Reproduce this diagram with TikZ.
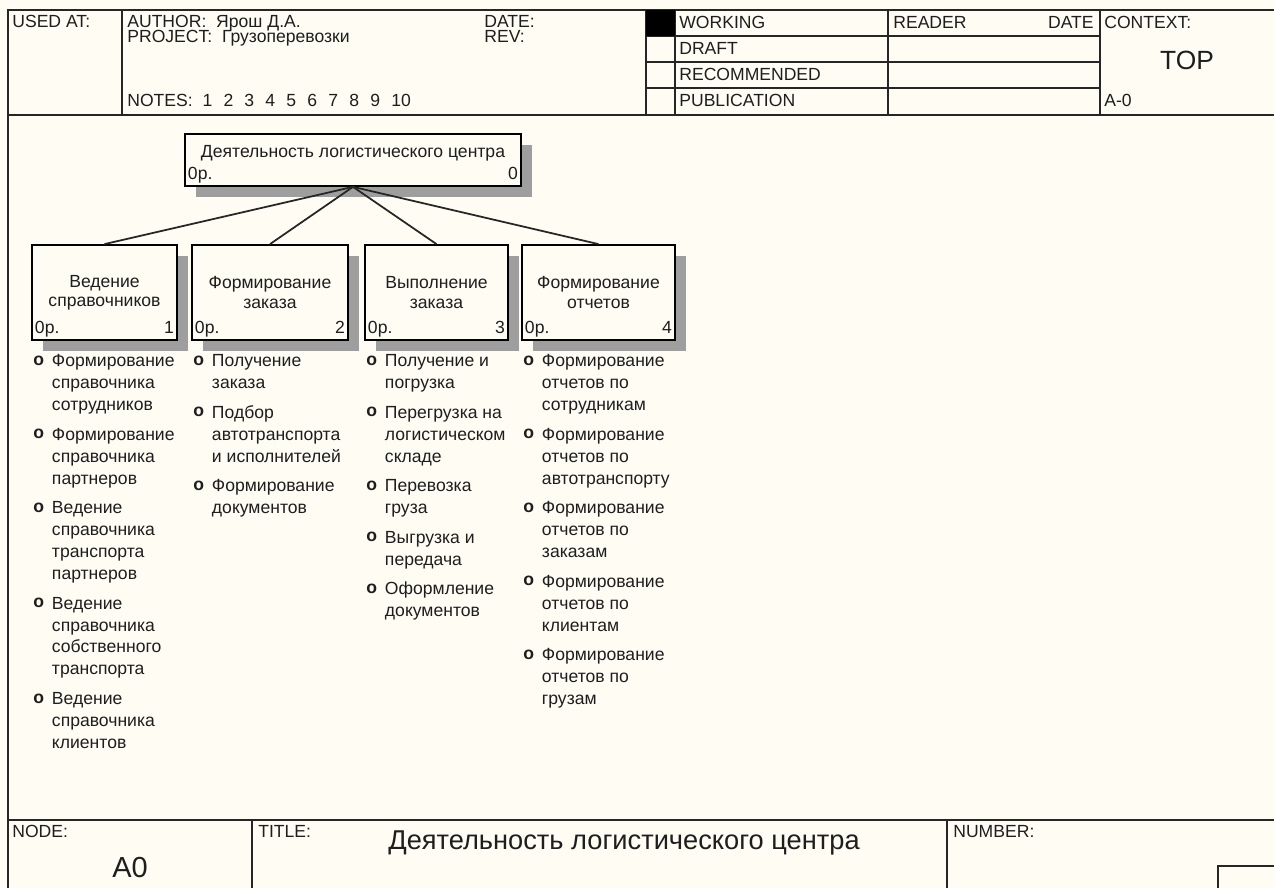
\documentclass[tikz,border=0pt]{standalone}
\usepackage{fontspec}
\setmainfont{Liberation Sans}
\usetikzlibrary{shadows}

\definecolor{paper}{RGB}{254,252,243}
\definecolor{ink}{RGB}{30,30,30}
\newcommand{\bul}{\raisebox{0.8pt}{\bfseries o}}
\newcommand{\nsp}{~\hspace{0.36em}}
\tikzset{
	rule/.style={line width=1pt, draw=black!85},
	hd/.style={anchor=base west, inner sep=0pt, text=ink, font=\fontsize{10}{12}\selectfont},
	fnbox/.style={draw, line width=1pt, fill=paper, text=ink, align=center, font=\fontsize{10}{11}\selectfont, general shadow={fill=black!38, shadow xshift=0.22cm, shadow yshift=-0.22cm}},
	corner/.style={inner sep=2pt, text depth=0.21em, text=ink, font=\fontsize{10}{12}\selectfont},
	lst/.style={anchor=north west, inner sep=0pt, text=ink, font=\fontsize{10}{12.5}\selectfont}
}

\begin{document}
\begin{tikzpicture}
		\path [use as bounding box, fill=paper] (0, 0) rectangle (25.48, 17.76);

		\draw [rule] (0.16, 0) -- (0.16, 17.56) -- (25.48, 17.56);
		\draw [rule] (0.16, 15.46) -- (25.48, 15.46);
		\draw [rule] (0.16, 1.36) -- (25.48, 1.36);
		\draw [rule] (2.44, 17.56) -- (2.44, 15.46);
		\draw [rule] (12.92, 17.56) -- (12.92, 15.46);
		\draw [rule] (13.5, 17.56) -- (13.5, 15.46);
		\draw [rule] (17.76, 17.56) -- (17.76, 15.46);
		\draw [rule] (22, 17.56) -- (22, 15.46);
		\draw [rule] (12.92, 17.04) -- (22, 17.04);
		\draw [rule] (12.92, 16.52) -- (22, 16.52);
		\draw [rule] (12.92, 16) -- (22, 16);
		\fill [black] (12.92, 17.56) rectangle (13.5, 17.04);
		\draw [rule] (5.04, 1.36) -- (5.04, 0);
		\draw [rule] (18.94, 1.36) -- (18.94, 0);
		\draw [rule] (24.36, 0) |- (25.48, 0.44);

		\node [hd] (usedat) at (0.24, 17.2) {USED AT:};
		\node [hd] (author) at (2.54, 17.2) {AUTHOR:~~Ярош Д.А.};
		\node [hd] (project) at (2.54, 16.9) {PROJECT:~~Грузоперевозки};
		\node [hd] (notes) at (2.54, 15.62) {NOTES:~~1\nsp2\nsp3\nsp4\nsp5\nsp6\nsp7\nsp8\nsp9\nsp10};
		\node [hd] (date) at (9.68, 17.2) {DATE:};
		\node [hd] (rev) at (9.68, 16.9) {REV:};
		\node [hd] (working) at (13.58, 17.18) {WORKING};
		\node [hd] (draft) at (13.58, 16.66) {DRAFT};
		\node [hd] (recommended) at (13.58, 16.14) {RECOMMENDED};
		\node [hd] (publication) at (13.58, 15.62) {PUBLICATION};
		\node [hd] (reader) at (17.86, 17.18) {READER};
		\node [hd, anchor=base east] (readerdate) at (21.88, 17.18) {DATE};
		\node [hd] (context) at (22.08, 17.18) {CONTEXT:};
		\node [hd, anchor=center, font=\fontsize{15}{18}\selectfont] (contexttop) at (23.74, 16.56) {TOP};
		\node [hd] (contextnode) at (22.08, 15.62) {A-0};

		\node [hd] (nodelbl) at (0.24, 1) {NODE:};
		\node [hd, anchor=base, font=\fontsize{16.5}{19}\selectfont] (nodeval) at (2.6, 0.2) {A0};
		\node [hd] (titlelbl) at (5.16, 1) {TITLE:};
		\node [hd, anchor=base, font=\fontsize{15.5}{18}\selectfont] (titleval) at (12.48, 0.76) {Деятельность логистического центра};
		\node [hd] (numberlbl) at (19.06, 1) {NUMBER:};

		\node [fnbox, minimum width=6.72cm, minimum height=1.04cm] (a0) at (7.06, 14.56) {};
		\node [hd, anchor=base, font=\fontsize{10}{12}\selectfont] (a0name) at (7.06, 14.61) {Деятельность логистического центра};
		\node [corner, anchor=south west] (a0op) at (a0.south west) {0р.};
		\node [corner, anchor=south east] (a0num) at (a0.south east) {0};

		\node [fnbox, minimum width=2.9cm, minimum height=1.9cm] (a1) at (2.09, 11.91) {Ведение\\справочников};
		\node [fnbox, minimum width=3.12cm, minimum height=1.9cm] (a2) at (5.4, 11.91) {Формирование\\заказа};
		\node [fnbox, minimum width=2.86cm, minimum height=1.9cm] (a3) at (8.73, 11.91) {Выполнение\\заказа};
		\node [fnbox, minimum width=3.06cm, minimum height=1.9cm] (a4) at (11.97, 11.91) {Формирование\\отчетов};

		\node [corner, anchor=south west] (a1op) at (a1.south west) {0р.};
		\node [corner, anchor=south east] (a1num) at (a1.south east) {1};
		\node [corner, anchor=south west] (a2op) at (a2.south west) {0р.};
		\node [corner, anchor=south east] (a2num) at (a2.south east) {2};
		\node [corner, anchor=south west] (a3op) at (a3.south west) {0р.};
		\node [corner, anchor=south east] (a3num) at (a3.south east) {3};
		\node [corner, anchor=south west] (a4op) at (a4.south west) {0р.};
		\node [corner, anchor=south east] (a4num) at (a4.south east) {4};

		\draw [rule] (a0.south) -- (a1.north);
		\draw [rule] (a0.south) -- (a2.north);
		\draw [rule] (a0.south) -- (a3.north);
		\draw [rule] (a0.south) -- (a4.north);

		\node [lst] (a1list) at (0.66, 10.74) {\begin{tabular}{@{}l@{\hspace{4.5pt}}l@{}}
			\bul & Формирование\\ & справочника\\ & сотрудников\\[4.3pt]
			\bul & Формирование\\ & справочника\\ & партнеров\\[4.3pt]
			\bul & Ведение\\ & справочника\\ & транспорта\\ & партнеров\\[4.3pt]
			\bul & Ведение\\ & справочника\\ & собственного\\ & транспорта\\[4.3pt]
			\bul & Ведение\\ & справочника\\ & клиентов
		\end{tabular}};
		\node [lst] (a2list) at (3.86, 10.74) {\begin{tabular}{@{}l@{\hspace{4.5pt}}l@{}}
			\bul & Получение\\ & заказа\\[4.3pt]
			\bul & Подбор\\ & автотранспорта\\ & и исполнителей\\[4.3pt]
			\bul & Формирование\\ & документов
		\end{tabular}};
		\node [lst] (a3list) at (7.32, 10.74) {\begin{tabular}{@{}l@{\hspace{4.5pt}}l@{}}
			\bul & Получение и\\ & погрузка\\[4.3pt]
			\bul & Перегрузка на\\ & логистическом\\ & складе\\[4.3pt]
			\bul & Перевозка\\ & груза\\[4.3pt]
			\bul & Выгрузка и\\ & передача\\[4.3pt]
			\bul & Оформление\\ & документов
		\end{tabular}};
		\node [lst] (a4list) at (10.46, 10.74) {\begin{tabular}{@{}l@{\hspace{4.5pt}}l@{}}
			\bul & Формирование\\ & отчетов по\\ & сотрудникам\\[4.3pt]
			\bul & Формирование\\ & отчетов по\\ & автотранспорту\\[4.3pt]
			\bul & Формирование\\ & отчетов по\\ & заказам\\[4.3pt]
			\bul & Формирование\\ & отчетов по\\ & клиентам\\[4.3pt]
			\bul & Формирование\\ & отчетов по\\ & грузам
		\end{tabular}};

	\end{tikzpicture}
\end{document}
